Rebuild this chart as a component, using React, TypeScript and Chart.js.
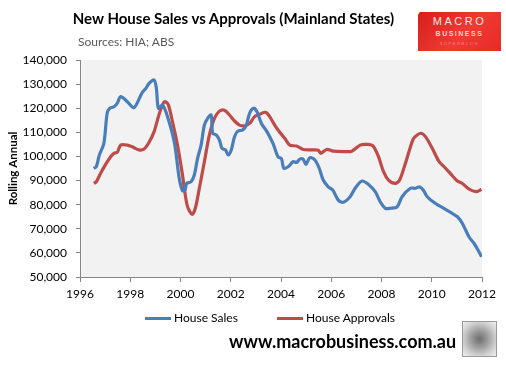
import React, { useEffect, useRef } from "react";
import { Chart, registerables } from "chart.js";

Chart.register(...registerables);

const salesYears = [
  1996.55, 1996.65, 1996.77, 1996.95, 1997.08, 1997.18, 1997.35, 1997.48, 1997.62, 1997.88,
  1998.15, 1998.48, 1998.62, 1998.75, 1998.95, 1999.04, 1999.12, 1999.28, 1999.44, 1999.75,
  1999.95, 2000.08, 2000.18, 2000.24, 2000.42, 2000.55, 2000.68, 2000.82, 2000.95, 2001.08,
  2001.22, 2001.28, 2001.42, 2001.55, 2001.65, 2001.79, 2001.9, 2002.02, 2002.15, 2002.28,
  2002.48, 2002.62, 2002.75, 2002.91, 2003.04, 2003.22, 2003.44, 2003.68, 2003.88, 2004.02,
  2004.11, 2004.28, 2004.48, 2004.62, 2004.75, 2004.88, 2004.99, 2005.15, 2005.35, 2005.52,
  2005.68, 2005.88, 2006.06, 2006.28, 2006.48, 2006.75, 2006.95, 2007.22, 2007.48, 2007.75,
  2007.95, 2008.15, 2008.35, 2008.62, 2008.82, 2009.15, 2009.35, 2009.52, 2009.66, 2009.82,
  2010.15, 2010.48, 2010.75, 2011.02, 2011.22, 2011.48, 2011.68, 2011.84, 2011.98,
];
const salesValues = [
  95000, 95800, 100600, 105400, 117900, 119900, 120600, 122000, 124800, 122700,
  120200, 126600, 128200, 130300, 131700, 128200, 120000, 121300, 117900, 106100,
  90900, 85800, 86000, 88800, 89500, 92300, 99200, 104700, 113000, 115800,
  117200, 109600, 108900, 106800, 103400, 102700, 100600, 102700, 108200, 110500,
  111000, 113000, 117900, 120000, 118600, 113700, 110300, 105400, 99900, 99000,
  95100, 95700, 97800, 97500, 98900, 98900, 96700, 99500, 98500, 95100,
  90200, 87400, 86100, 81900, 81000, 83300, 86800, 89800, 88400, 85400,
  81200, 78500, 78500, 79100, 83300, 86800, 86800, 87400, 86100, 83300,
  80500, 78500, 76800, 75000, 72200, 66700, 64000, 61200, 58400,
];

const approvalYears = [
  1996.55, 1996.65, 1996.82, 1997.02, 1997.22, 1997.35, 1997.48, 1997.62, 1997.88, 1998.08,
  1998.35, 1998.55, 1998.75, 1998.95, 1999.12, 1999.28, 1999.39, 1999.52, 1999.68, 1999.88,
  2000.08, 2000.15, 2000.28, 2000.46, 2000.59, 2000.75, 2000.95, 2001.15, 2001.35, 2001.55,
  2001.75, 2001.95, 2002.15, 2002.35, 2002.55, 2002.75, 2002.95, 2003.15, 2003.39, 2003.55,
  2003.75, 2003.95, 2004.15, 2004.35, 2004.62, 2004.88, 2005.22, 2005.48, 2005.58, 2005.82,
  2006.08, 2006.48, 2006.82, 2007.15, 2007.42, 2007.66, 2007.88, 2008.08, 2008.28, 2008.55,
  2008.72, 2008.95, 2009.26, 2009.42, 2009.58, 2009.75, 2010.02, 2010.28, 2010.55, 2010.82,
  2011.02, 2011.22, 2011.48, 2011.75, 2011.98,
];
const approvalValues = [
  88800, 89500, 93000, 96700, 99900, 101300, 101700, 104700, 104700, 104000,
  102700, 103100, 105900, 110300, 116500, 121300, 122700, 121300, 114400, 104700,
  92300, 86800, 79200, 76000, 78500, 86800, 97800, 108900, 115800, 118800,
  119200, 117200, 114700, 113000, 112700, 113700, 116500, 117500, 118300, 116500,
  113000, 110000, 107500, 104700, 104300, 102900, 102700, 102600, 101300, 102900,
  102200, 102000, 102200, 104700, 105000, 104400, 99900, 93700, 90200, 88800,
  90200, 97100, 107200, 108900, 109600, 108200, 103400, 98100, 95100, 92000,
  89800, 88800, 86500, 85400, 86300,
];

const xTickYears = [1996, 1998, 2000, 2002, 2004, 2006, 2008, 2010, 2012];
const yTickValues = [50000, 60000, 70000, 80000, 90000, 100000, 110000, 120000, 130000, 140000];

const seriesNames = ["House Sales", "House Approvals"];
const BLUE = "#4A7EBB";
const RED = "#BE4B48";
const FONT = "Lato, 'Open Sans', sans-serif";

const plotBg = {
  id: "plotBg",
  beforeDraw(chart: any) {
    const { ctx, chartArea } = chart;
    ctx.save();
    ctx.fillStyle = "#F2F2F2";
    ctx.fillRect(chartArea.left, chartArea.top, chartArea.right - chartArea.left, chartArea.bottom - chartArea.top);
    ctx.restore();
  },
};

export default function App() {
  const ref = useRef<HTMLCanvasElement | null>(null);

  useEffect(() => {
    if (!ref.current) return;
    const chart = new Chart(ref.current, {
      type: "line",
      data: {
        datasets: [
          {
            label: seriesNames[0],
            data: salesYears.map((x, i) => ({ x, y: salesValues[i] })),
            borderColor: BLUE,
            borderWidth: 3.2,
            pointRadius: 0,
            tension: 0.3,
            fill: false,
          },
          {
            label: seriesNames[1],
            data: approvalYears.map((x, i) => ({ x, y: approvalValues[i] })),
            borderColor: RED,
            borderWidth: 3.2,
            pointRadius: 0,
            tension: 0.3,
            fill: false,
          },
        ],
      },
      options: {
        responsive: false,
        animation: false,
        layout: { padding: { top: 60, right: 24, left: 0, bottom: 0 } },
        plugins: { legend: { display: false }, title: { display: false }, tooltip: { enabled: false } },
        scales: {
          x: {
            type: "linear",
            min: xTickYears[0],
            max: xTickYears[xTickYears.length - 1],
            afterBuildTicks: (s: any) => {
              s.ticks = xTickYears.map((v) => ({ value: v }));
            },
            afterFit: (s: any) => {
              s.height = 88;
            },
            ticks: {
              callback: (v: any) => String(v),
              color: "#000",
              font: { family: FONT, size: 12 },
              padding: 5,
              maxRotation: 0,
            },
            grid: { drawOnChartArea: false, drawTicks: true, tickLength: 5, color: "#868686" },
            border: { display: true, color: "#868686" },
          },
          y: {
            min: yTickValues[0],
            max: yTickValues[yTickValues.length - 1],
            afterBuildTicks: (s: any) => {
              s.ticks = yTickValues.map((v) => ({ value: v }));
            },
            afterFit: (s: any) => {
              s.width = 80;
            },
            ticks: {
              callback: (v: any) => Number(v).toLocaleString("en-US"),
              color: "#000",
              font: { family: FONT, size: 12 },
              padding: 9,
            },
            title: {
              display: true,
              text: "Rolling Annual",
              color: "#000",
              font: { family: FONT, size: 11.5, weight: "bold" },
              padding: { top: 6, bottom: 0 },
            },
            grid: { drawOnChartArea: false, drawTicks: true, tickLength: 4, color: "#868686" },
            border: { display: true, color: "#868686" },
          },
        },
      },
      plugins: [plotBg],
    } as any);
    return () => chart.destroy();
  }, []);

  const abs = (s: React.CSSProperties): React.CSSProperties => ({ position: "absolute", ...s });

  return (
    <div style={{ position: "fixed", left: 0, top: 0, width: 506, height: 365, background: "#fff", fontFamily: FONT, overflow: "hidden" }}>
      <canvas ref={ref} width={506} height={365} style={{ position: "absolute", left: 0, top: 0 }} />
      <div style={abs({ left: 0, width: 467, top: 9, textAlign: "center", fontSize: 15, fontWeight: "bold", color: "#000", whiteSpace: "nowrap" })}>
        New House Sales vs Approvals (Mainland States)
      </div>
      <div style={abs({ left: 78, top: 34, fontSize: 12, color: "#595959", whiteSpace: "nowrap" })}>Sources: HIA; ABS</div>
      <div
        style={abs({
          left: 418,
          top: 12,
          width: 83,
          height: 39,
          background: "linear-gradient(135deg, #d81e1a 0%, #ef3a34 55%, #e82a25 100%)",
          clipPath: "polygon(2% 0, 100% 0, 100% 100%, 0 100%, 0 8%)",
        })}
      >
        <div style={abs({ left: 0, width: 83, top: 3, textAlign: "center", fontSize: 11, letterSpacing: 2.5, color: "#fde6e4", fontFamily: "Arial, sans-serif" })}>MACRO</div>
        <div style={abs({ left: 0, width: 83, top: 18, textAlign: "center", fontSize: 7, letterSpacing: 1.5, color: "#fbd0cd", fontFamily: "Arial, sans-serif", fontWeight: "bold" })}>BUSINESS</div>
        <div style={abs({ left: 0, width: 83, top: 29, textAlign: "center", fontSize: 4, letterSpacing: 1.6, color: "#f08a85", fontFamily: "Arial, sans-serif" })}>SUPERBLOG</div>
      </div>
      <div style={abs({ left: 145, top: 317, width: 26, height: 3, background: BLUE })} />
      <div style={abs({ left: 174, top: 310, fontSize: 12, color: "#000", whiteSpace: "nowrap" })}>{seriesNames[0]}</div>
      <div style={abs({ left: 277, top: 317, width: 26, height: 3, background: RED })} />
      <div style={abs({ left: 306, top: 310, fontSize: 12, color: "#000", whiteSpace: "nowrap" })}>{seriesNames[1]}</div>
      <div style={abs({ left: 229, top: 330, fontSize: 18, fontWeight: "bold", color: "#000", whiteSpace: "nowrap" })}>www.macrobusiness.com.au</div>
      <div
        style={abs({
          left: 462,
          top: 321,
          width: 33,
          height: 34,
          border: "1px solid #9a9a9a",
          background: "radial-gradient(circle at 50% 50%, #6d6d6d 0%, #9c9c9c 35%, #d0d0d0 70%, #f0f0f0 100%)",
        })}
      />
    </div>
  );
}
